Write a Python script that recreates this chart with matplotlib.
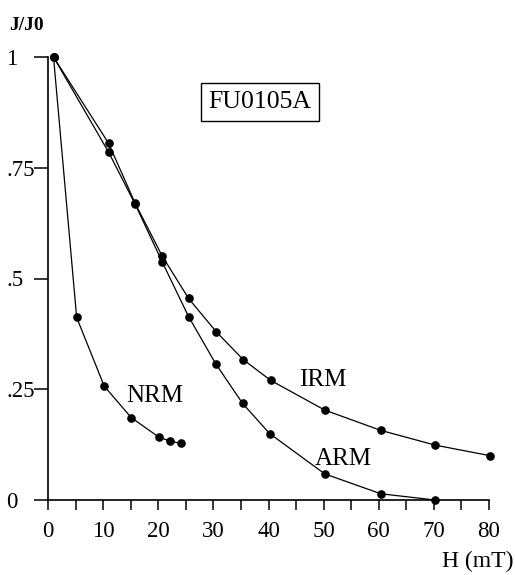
import matplotlib
matplotlib.use("Agg")
import matplotlib.pyplot as plt

# data
irm_h = [1, 11, 15.8, 20.7, 25.5, 30.5, 35.4, 40.4, 50.2, 60.4, 70.2, 80.2]
irm_j = [1, 0.805, 0.670, 0.551, 0.455, 0.380, 0.317, 0.270, 0.203, 0.157, 0.124, 0.100]
arm_h = [1, 11, 15.8, 20.7, 25.5, 30.4, 35.3, 40.2, 50.2, 60.4, 70.2]
arm_j = [1, 0.785, 0.668, 0.538, 0.414, 0.308, 0.218, 0.150, 0.059, 0.014, 0.0]
nrm_h = [1, 5.2, 10.2, 15.1, 20.1, 22.1, 24.1]
nrm_j = [1, 0.412, 0.257, 0.186, 0.142, 0.133, 0.128]

x_major = [0, 10, 20, 30, 40, 50, 60, 70, 80]
x_minor = [5, 15, 25, 35, 45, 55, 65, 75]
y_ticks = [0, 0.25, 0.5, 0.75, 1]
y_labels = ["0", ".25", ".5", ".75", "1"]

serif = "Liberation Serif"
plt.rcParams["font.family"] = serif

fig = plt.figure(figsize=(5.15, 5.75), dpi=100)
ax = fig.add_axes([48 / 515, 1 - 500 / 575, 441 / 515, 443 / 575])

for h, j in [(irm_h, irm_j), (arm_h, arm_j), (nrm_h, nrm_j)]:
    ax.plot(h, j, color="black", lw=0.9, marker="o", ms=5.2,
            markerfacecolor="black", markeredgecolor="black", clip_on=False, zorder=3)

ax.set_xlim(0, 80)
ax.set_ylim(0, 1)
for s in ["top", "right"]:
    ax.spines[s].set_visible(False)
for s in ["left", "bottom"]:
    ax.spines[s].set_linewidth(1.2)

ax.set_xticks(x_major)
ax.set_xticks(x_minor, minor=True)
ax.set_xticklabels([str(v) for v in x_major], fontsize=16.5)
ax.tick_params(axis="x", which="both", direction="out", length=7, width=1.1, pad=8)
ax.set_yticks(y_ticks)
ax.set_yticklabels(y_labels, fontsize=16.5)
ax.tick_params(axis="y", direction="out", length=10, width=1.1, pad=20)
for lab in ax.get_yticklabels():
    lab.set_horizontalalignment("left")

ax.text(19.4, 0.235, "NRM", fontsize=18, ha="center", va="center")
ax.text(49.9, 0.27, "IRM", fontsize=18, ha="center", va="center")
ax.text(53.5, 0.093, "ARM", fontsize=18, ha="center", va="center")
ax.text(38.5, 0.898, "FU0105A", fontsize=18.5, ha="center", va="center",
        bbox=dict(boxstyle="square,pad=0.3", facecolor="white", edgecolor="black", lw=1.0))

fig.text(9 / 515, 1 - 25 / 575, "J/J0", fontsize=14, fontweight="bold", ha="left", va="center")
fig.text(478 / 515, 1 - 561 / 575, "H (mT)", fontsize=17, ha="center", va="center")

fig.savefig("out.png", dpi=100)
